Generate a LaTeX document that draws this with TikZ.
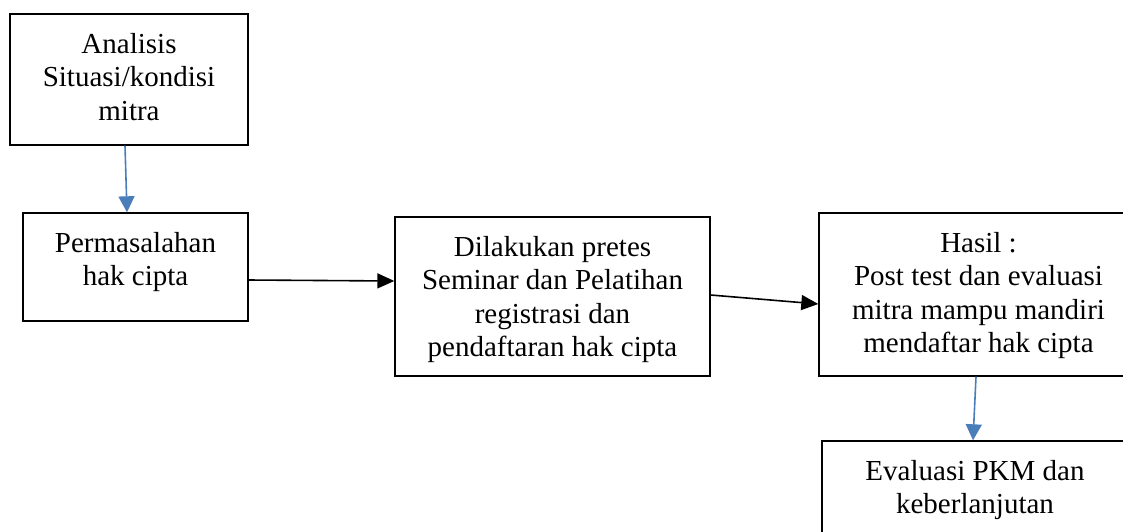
\documentclass[tikz,border=0pt]{standalone}
\usepackage{fontspec}
\setmainfont{Liberation Serif}
\usetikzlibrary{arrows.meta}
\definecolor{arrowblue}{HTML}{4A7EBB}
\tikzset{
  box/.style={draw=black, line width=1.4pt, inner sep=0pt, fill=none},
  boxtext/.style={anchor=north, inner sep=0pt, align=center,
    font=\fontsize{29}{33.4}\selectfont},
  bluearrow/.style={draw=arrowblue, line width=1.6pt, -{Triangle[length=16pt,width=16pt]}},
  blackarrow/.style={draw=black, line width=1.6pt, -{Triangle[length=17pt,width=15pt]}}
}
\begin{document}
\begin{tikzpicture}[x=1pt,y=-1pt]
\clip (0,0) rectangle (1123,531);
\fill[white] (0,0) rectangle (1123,531);
% boxes
\node[box, minimum width=238pt, minimum height=131pt] (b1) at (129,79.5) {};
\node[box, minimum width=225pt, minimum height=108pt] (b2) at (135.5,267) {};
\node[box, minimum width=315pt, minimum height=159pt] (b3) at (552.5,296.5) {};
\node[box, minimum width=319pt, minimum height=163pt] (b4) at (978.5,294.5) {};
\node[box, minimum width=306pt, minimum height=119pt] (b5) at (975,500.5) {};
% texts
\node[boxtext] (t1) at ([yshift=-16.5pt]b1.north) {\strut Analisis\\Situasi/kondisi\\mitra};
\node[boxtext] (t2) at ([yshift=-16.5pt]b2.north) {\strut Permasalahan\\hak cipta};
\node[boxtext] (t3) at ([yshift=-16.5pt]b3.north) {\strut Dilakukan pretes\\Seminar dan Pelatihan\\registrasi dan\\pendaftaran hak cipta};
\node[boxtext] (t4) at ([yshift=-16.5pt]b4.north) {\strut Hasil :\\Post test dan evaluasi\\mitra mampu mandiri\\mendaftar hak cipta};
\node[boxtext] (t5) at ([yshift=-16.5pt]b5.north) {\strut Evaluasi PKM dan\\keberlanjutan};
% connectors
\draw[bluearrow] ([xshift=-4pt]b1.south) -- ([xshift=-8.5pt]b2.north);
\draw[blackarrow] ([yshift=-13pt]b2.east) -- ([yshift=15.5pt]b3.west);
\draw[blackarrow] ([yshift=1.5pt]b3.east) -- ([yshift=-9.5pt]b4.west);
\draw[bluearrow] ([xshift=-2.5pt]b4.south) -- ([xshift=-2pt]b5.north);
\end{tikzpicture}
\end{document}
